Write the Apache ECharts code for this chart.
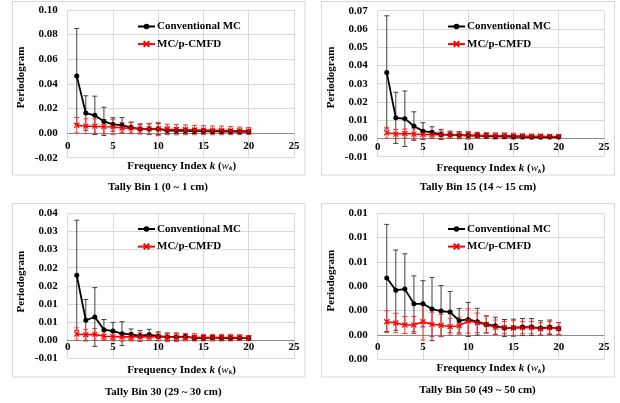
<!DOCTYPE html>
<html>
<head>
<meta charset="utf-8">
<script src="https://cdn.jsdelivr.net/npm/echarts@6/dist/echarts.min.js"></script>
<style>html,body{margin:0;padding:0;background:#fff}#c{width:620px;height:403px}</style>
</head>
<body>
<div id="c"></div>
<script>
// ---------- data ----------
var kIndex = [1,2,3,4,5,6,7,8,9,10,11,12,13,14,15,16,17,18,19,20];
var seriesNames = ['Conventional MC', 'MC/p-CMFD'];
var xTickLabels = ['0','5','10','15','20','25'];

var captions = ['Tally Bin 1 (0 ~ 1 cm)', 'Tally Bin 15 (14 ~ 15 cm)', 'Tally Bin 30 (29 ~ 30 cm)', 'Tally Bin 50 (49 ~ 50 cm)'];

// Panel 1 : Tally bin 1
var conv1    = [0.0463,0.0163,0.0144,0.0095,0.0070,0.0064,0.0045,0.0034,0.0033,0.0033,0.0022,0.0019,0.0019,0.0017,0.0016,0.0014,0.0014,0.0012,0.0012,0.0011];
var convErr1 = [0.0387,0.0140,0.0156,0.0115,0.0055,0.0062,0.0045,0.0035,0.0042,0.0045,0.0028,0.0025,0.0022,0.0020,0.0018,0.0016,0.0015,0.0014,0.0012,0.0010];
var red1     = [0.0064,0.0056,0.0056,0.0052,0.0050,0.0041,0.0040,0.0034,0.0034,0.0033,0.0030,0.0028,0.0027,0.0025,0.0024,0.0022,0.0022,0.0020,0.0019,0.0017];
var redErr1  = [0.0063,0.0060,0.0060,0.0058,0.0062,0.0045,0.0045,0.0042,0.0045,0.0054,0.0042,0.0042,0.0040,0.0038,0.0036,0.0035,0.0035,0.0033,0.0030,0.0028];
var yLabels1 = ['-0.02','0.00','0.02','0.04','0.06','0.08','0.10'];

// Panel 2 : Tally bin 15
var conv2    = [0.0362,0.0113,0.0108,0.0068,0.0040,0.0033,0.0022,0.0020,0.0018,0.0016,0.0016,0.0013,0.0011,0.0011,0.0009,0.0009,0.0008,0.0008,0.0008,0.0008];
var convErr2 = [0.0310,0.0140,0.0152,0.0078,0.0046,0.0031,0.0028,0.0020,0.0020,0.0018,0.0016,0.0014,0.0013,0.0012,0.0011,0.0011,0.0010,0.0010,0.0009,0.0009];
var red2     = [0.0031,0.0024,0.0027,0.0024,0.0022,0.0021,0.0020,0.0019,0.0018,0.0018,0.0017,0.0016,0.0015,0.0015,0.0014,0.0013,0.0012,0.0012,0.0011,0.0011];
var redErr2  = [0.0030,0.0025,0.0025,0.0028,0.0025,0.0022,0.0020,0.0018,0.0018,0.0020,0.0017,0.0016,0.0016,0.0016,0.0015,0.0012,0.0011,0.0011,0.0010,0.0010];
var yLabels2 = ['-0.01','0.00','0.01','0.02','0.03','0.04','0.05','0.06','0.07'];

// Panel 3 : Tally bin 30
var conv3    = [0.0179,0.0055,0.0064,0.0029,0.0025,0.0018,0.0016,0.0012,0.0015,0.0011,0.0009,0.0009,0.0010,0.0006,0.0006,0.0007,0.0006,0.0006,0.0006,0.0006];
var convErr3 = [0.0152,0.0057,0.0081,0.0028,0.0024,0.0033,0.0015,0.0015,0.0015,0.0012,0.0010,0.0010,0.0008,0.0007,0.0007,0.0006,0.0006,0.0006,0.0005,0.0005];
var red3     = [0.0017,0.0015,0.0016,0.0011,0.0010,0.0009,0.0009,0.0009,0.0009,0.0009,0.0008,0.0008,0.0008,0.0008,0.0007,0.0007,0.0007,0.0007,0.0007,0.0006];
var redErr3  = [0.0017,0.0015,0.0016,0.0012,0.0012,0.0012,0.0011,0.0011,0.0010,0.0011,0.0012,0.0012,0.0010,0.0010,0.0009,0.0009,0.0009,0.0009,0.0008,0.0007];
var yLabels3 = ['-0.01','0.00','0.01','0.01','0.02','0.02','0.03','0.03','0.04'];

// Panel 4 : Tally bin 50
var conv4    = [0.00469,0.00368,0.00377,0.00256,0.00256,0.00213,0.00196,0.00188,0.00117,0.00128,0.00109,0.00087,0.00076,0.00057,0.00060,0.00065,0.00065,0.00057,0.00063,0.00052];
var convErr4 = [0.0044,0.0033,0.0029,0.0023,0.0019,0.0026,0.0021,0.0017,0.0010,0.0014,0.0011,0.0007,0.0007,0.0007,0.0007,0.0007,0.0007,0.0006,0.0006,0.0005];
var red4     = [0.00109,0.00098,0.00082,0.00082,0.00109,0.00087,0.00080,0.00068,0.00076,0.00115,0.00100,0.00085,0.00063,0.00060,0.00057,0.00060,0.00060,0.00050,0.00060,0.00052];
var redErr4  = [0.0009,0.0008,0.0007,0.0007,0.0015,0.0010,0.0009,0.0007,0.0007,0.0010,0.0008,0.0007,0.0006,0.0005,0.0006,0.0005,0.0005,0.0005,0.0005,0.0005];
var yLabels4 = ['0.00','0.00','0.00','0.00','0.01','0.01','0.01'];

// ---------- layout / style ----------
var FONT = "'Liberation Serif','Times New Roman',serif";
var GRIDC = '#d9d9d9';
var panels = [
  {conv:conv1, convErr:convErr1, red:red1, redErr:redErr1, yLabels:yLabels1, min:-0.02, max:0.10, step:0.02,
   grid:{left:67.7, top:10, width:226.3, height:147.7}, xLabelMargin:-17, legend:{left:137, top:21},
   box:[12.5,1.5,292.5,173.5], cap:[158,187.3], ytitle:[20.7,77.5], xtitle:[181.7,165.7]},
  {conv:conv2, convErr:convErr2, red:red2, redErr:redErr2, yLabels:yLabels2, min:-0.01, max:0.07, step:0.01,
   grid:{left:377.7, top:10.7, width:226.3, height:146}, xLabelMargin:-15.5, legend:{left:447, top:21},
   box:[321.5,1.5,293,173.5], cap:[478,187.3], ytitle:[330.7,77.5], xtitle:[490.8,168.3]},
  {conv:conv3, convErr:convErr3, red:red3, redErr:redErr3, yLabels:yLabels3, min:-0.005, max:0.035, step:0.005,
   grid:{left:67.7, top:213.3, width:226.3, height:145}, xLabelMargin:-17, legend:{left:137, top:223.5},
   box:[12.5,203.5,292.5,173.5], cap:[163.3,392.3], ytitle:[20.7,281.7], xtitle:[181.5,370]},
  {conv:conv4, convErr:convErr4, red:red4, redErr:redErr4, yLabels:yLabels4, min:-0.002, max:0.010, step:0.002,
   grid:{left:377.7, top:213.3, width:226.3, height:146}, xLabelMargin:-18, legend:{left:447, top:223.5},
   box:[321.5,203.5,293,173.5], cap:[477.5,390], ytitle:[330.7,280.7], xtitle:[490.8,368.3]}
];

var xSymbol = 'path://M0,0L10,10M10,0L0,10';

function errSeries(idx, vals, errs, color) {
  return {
    type: 'custom', xAxisIndex: idx, yAxisIndex: idx, silent: true,
    data: kIndex.map(function (k, j) { return [k, vals[j], errs[j]]; }),
    encode: {x: 0, y: 1},
    renderItem: function (params, api) {
      var x = api.value(0), y = api.value(1), e = api.value(2);
      var t = api.coord([x, y + e]), b = api.coord([x, y - e]);
      var hw = 2.5;
      var st = {stroke: color, lineWidth: 1};
      return {type: 'group', children: [
        {type: 'line', shape: {x1: t[0], y1: t[1], x2: b[0], y2: b[1]}, style: st},
        {type: 'line', shape: {x1: t[0] - hw, y1: t[1], x2: t[0] + hw, y2: t[1]}, style: st},
        {type: 'line', shape: {x1: b[0] - hw, y1: b[1], x2: b[0] + hw, y2: b[1]}, style: st}
      ]};
    }
  };
}

var grids = [], xAxes = [], yAxes = [], series = [], legends = [], graphics = [];
var txt = {fontFamily: FONT, fontWeight: 'bold', fontSize: 11, color: '#000'};

panels.forEach(function (p, i) {
  grids.push(p.grid);
  xAxes.push({
    type: 'value', gridIndex: i, min: 0, max: 25, interval: 5,
    axisLine: {show: true, onZero: true, lineStyle: {color: '#8c8c8c', width: 1}},
    axisTick: {show: false},
    splitLine: {show: true, lineStyle: {color: GRIDC, width: 1}},
    axisLabel: Object.assign({margin: p.xLabelMargin, formatter: function (v) { return xTickLabels[Math.round(v / 5)]; }}, txt)
  });
  yAxes.push({
    type: 'value', gridIndex: i, min: p.min, max: p.max, interval: p.step,
    axisLine: {show: false}, axisTick: {show: false},
    splitLine: {show: true, lineStyle: {color: GRIDC, width: 1}},
    axisLabel: Object.assign({margin: 10, formatter: (function (pp) { return function (v) {
      return pp.yLabels[Math.round((v - pp.min) / pp.step)];
    }; })(p)}, txt)
  });
  series.push(errSeries(i, p.conv, p.convErr, '#404040'));
  series.push({
    name: seriesNames[0], type: 'line', xAxisIndex: i, yAxisIndex: i,
    data: kIndex.map(function (k, j) { return [k, p.conv[j]]; }),
    symbol: 'circle', symbolSize: 5, showAllSymbol: true,
    lineStyle: {color: '#000', width: 1.8}, itemStyle: {color: '#000'}, animation: false
  });
  series.push(errSeries(i, p.red, p.redErr, '#ff3030'));
  series.push({
    name: seriesNames[1], type: 'line', xAxisIndex: i, yAxisIndex: i,
    data: kIndex.map(function (k, j) { return [k, p.red[j]]; }),
    symbol: xSymbol, symbolSize: 5, showAllSymbol: true,
    lineStyle: {color: '#ff0000', width: 1.6},
    itemStyle: {color: '#ff0000', borderColor: '#ff0000', borderWidth: 1.2}, animation: false
  });
  legends.push({
    orient: 'vertical', left: p.legend.left, top: p.legend.top, padding: 0,
    itemWidth: 17, itemHeight: 7, itemGap: 6.6, selectedMode: false,
    data: seriesNames,
    textStyle: Object.assign({padding: [0, 0, 0, -3]}, txt)
  });
  graphics.push({type: 'rect', silent: true, z: -1,
    shape: {x: p.box[0], y: p.box[1], width: p.box[2], height: p.box[3]},
    style: {fill: 'none', stroke: GRIDC, lineWidth: 1}});
  graphics.push({type: 'text', x: p.cap[0], y: p.cap[1],
    style: {text: captions[i], font: 'bold 11px ' + FONT, fill: '#000', textAlign: 'center', textVerticalAlign: 'middle'}});
  graphics.push({type: 'text', x: p.ytitle[0], y: p.ytitle[1], rotation: Math.PI / 2,
    style: {text: 'Periodogram', font: 'bold 11px ' + FONT, fill: '#000', textAlign: 'center', textVerticalAlign: 'middle'}});
  graphics.push({type: 'text', x: p.xtitle[0], y: p.xtitle[1],
    style: {text: 'Frequency Index {i|k} ({w|w}{s|k})', font: 'bold 11px ' + FONT, fill: '#000',
      textAlign: 'center', textVerticalAlign: 'middle',
      rich: {
        i: {fontFamily: FONT, fontWeight: 'bold', fontStyle: 'italic', fontSize: 11, fill: '#000'},
        w: {fontFamily: FONT, fontStyle: 'italic', fontSize: 11, fill: '#000'},
        s: {fontFamily: FONT, fontStyle: 'italic', fontWeight: 'bold', fontSize: 7, fill: '#000', padding: [5, 0, 0, 0]}
      }}});
});

var chart = echarts.init(document.getElementById('c'), null, {renderer: 'canvas'});
chart.setOption({
  animation: false,
  backgroundColor: '#fff',
  grid: grids, xAxis: xAxes, yAxis: yAxes, series: series, legend: legends,
  graphic: graphics
});
</script>
</body>
</html>
